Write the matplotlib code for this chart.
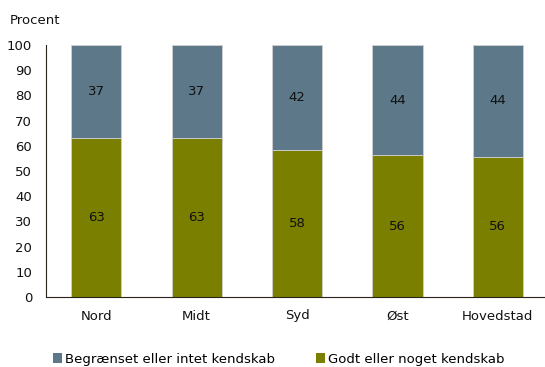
import numpy as np
import matplotlib
matplotlib.use("Agg")
import matplotlib.pyplot as plt
from matplotlib.patches import Patch

regions = ["Nord", "Midt", "Syd", "Øst", "Hovedstad"]
godt = [63.0, 63.0, 58.2, 56.3, 55.6]
begr = [37.0, 37.0, 41.8, 43.7, 44.4]
godt_labels = [63, 63, 58, 56, 56]
begr_labels = [37, 37, 42, 44, 44]

col_godt = "#7A7F00"
col_begr = "#5C7889"

plt.rcParams["font.family"] = ["DejaVu Sans"]
plt.rcParams["font.size"] = 9.5

fig = plt.figure(figsize=(5.45, 3.67), dpi=100)
ax = fig.add_axes([46 / 545, 1 - 297 / 367, 502 / 545, 252 / 367])

x = np.arange(len(regions))
ax.bar(x, godt, width=0.5, color=col_godt, edgecolor="#d0d0d0", linewidth=0.6)
ax.bar(x, begr, width=0.5, bottom=godt, color=col_begr, edgecolor="#d0d0d0", linewidth=0.6)

for i in range(len(regions)):
    ax.text(x[i], godt[i] / 2, str(godt_labels[i]), ha="center", va="center", color="#111111")
    ax.text(x[i], godt[i] + begr[i] / 2, str(begr_labels[i]), ha="center", va="center", color="#111111")

ax.set_xlim(-0.5, len(regions) - 0.5)
ax.set_ylim(0, 100)
ax.set_yticks(range(0, 101, 10))
ax.set_xticks(x)
ax.set_xticklabels(regions)
ax.tick_params(axis="both", length=0, colors="#111111")
ax.tick_params(axis="y", pad=10)
ax.tick_params(axis="x", pad=9)
for s in ["top", "right"]:
    ax.spines[s].set_visible(False)
ax.spines["left"].set_color("#2a2418")
ax.spines["bottom"].set_color("#2a2418")
ax.spines["left"].set_linewidth(0.8)
ax.spines["bottom"].set_linewidth(0.8)

fig.text(10 / 545, 1 - 21 / 367, "Procent", ha="left", va="center", color="#111111")

handles = [Patch(facecolor=col_begr, label="Begrænset eller intet kendskab"),
           Patch(facecolor=col_godt, label="Godt eller noget kendskab")]
fig.legend(handles=handles, loc="center", bbox_to_anchor=(0.511, 1 - 359 / 367), ncol=2,
           frameon=False, handlelength=0.7, handleheight=0.7, handletextpad=0.2,
           columnspacing=3.1, borderpad=0)

fig.savefig("out.png", dpi=100)
